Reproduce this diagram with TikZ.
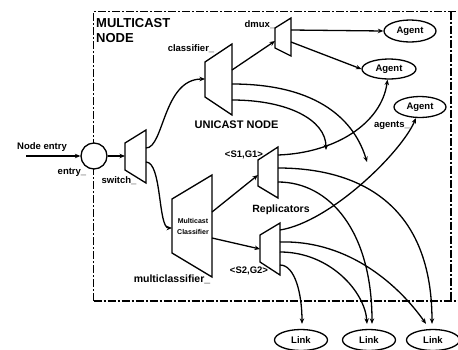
\documentclass[tikz,border=0pt]{standalone}
\usepackage{fontspec}
\setmainfont{Liberation Sans}
\usetikzlibrary{shapes.geometric,arrows.meta,calc}
\begin{document}
\begin{tikzpicture}[x=1pt,y=-1pt,
  wire/.style={line width=1.3pt, -{Stealth[length=5.5pt,width=4.5pt]}},
  lbl/.style={font=\fontsize{9.5}{11}\selectfont\bfseries, anchor=base, inner sep=0pt},
  biglbl/.style={font=\fontsize{10.5}{12}\selectfont\bfseries, anchor=base, inner sep=0pt},
  ellbox/.style={ellipse, draw, line width=1.3pt, fill=white, minimum width=52pt, minimum height=21pt, inner sep=0pt, font=\fontsize{9.5}{11}\selectfont\bfseries},
  mux/.style={line width=1.3pt, fill=white, line join=miter},
  frame/.style={line width=1.4pt, dash pattern=on 8pt off 2pt on 2pt off 2pt},
]
\useasboundingbox (0,0) rectangle (458,349);

% frame
\draw[frame] (93.5,301) -- (93.5,11.5) -- (458,11.5);
\draw[frame] (451,11.5) -- (451,301);
\draw[frame] (93.5,301) -- (458,301);
\node[font=\fontsize{13}{15}\selectfont\bfseries, anchor=base west, inner sep=0pt] (mc1) at (96,27) {MULTICAST};
\node[font=\fontsize{13}{15}\selectfont\bfseries, anchor=base west, inner sep=0pt] (mc2) at (96,42) {NODE};

% entry
\node[circle, draw, line width=1.3pt, fill=white, minimum size=26pt, inner sep=0pt] (entry) at (94,156) {};
\coordinate (src) at (26,156);
\node[lbl] (ne) at (42,149) {Node entry};
\node[lbl] (el) at (72,174) {entry\_};

% switch
\draw[mux] (125,143) -- (146,130) -- (146,183) -- (125,170) -- cycle;
\coordinate (swin) at (125,156);
\coordinate (swo1) at (146,148);
\coordinate (swo2) at (146,162);
\node[lbl] (swl) at (119,183) {switch\_};

% unicast classifier
\draw[mux] (205,62) -- (232,44) -- (232,115) -- (205,97) -- cycle;
\coordinate (clin) at (205,79);
\coordinate (clo1) at (232,70);
\coordinate (clo2) at (232,84);
\coordinate (clo3) at (232,100);
\node[lbl] (cll) at (191,51) {classifier\_};
\node[font=\fontsize{11}{13}\selectfont\bfseries, anchor=base, inner sep=0pt] (un) at (236.5,128) {UNICAST NODE};

% dmux
\draw[mux] (275,28) -- (291,18) -- (291,56) -- (275,48) -- cycle;
\coordinate (dmin) at (275,41);
\coordinate (dmo1) at (291,30);
\coordinate (dmo2) at (291,42);
\node[lbl] (dml) at (260,27) {dmux\_};

% agents
\node[ellbox, minimum width=52pt, minimum height=22pt] (a1) at (410,31) {Agent};
\node[ellbox, minimum width=54pt, minimum height=20pt] (a2) at (389,69) {Agent};
\node[ellbox, minimum width=52pt, minimum height=21pt] (a3) at (420,107) {Agent};
\node[lbl] (agl) at (392,127) {agents\_};

% multicast classifier
\draw[mux] (172,199) -- (212,175) -- (212,277) -- (172,253) -- cycle;
\coordinate (mcin) at (172,228);
\coordinate (mco1) at (212,212);
\coordinate (mco2) at (212,238);
\node[font=\fontsize{7}{8}\selectfont\bfseries, anchor=base, inner sep=0pt] (mt1) at (193,223) {Multicast};
\node[font=\fontsize{7}{8}\selectfont\bfseries, anchor=base, inner sep=0pt] (mt2) at (193,234) {Classifier};
\node[biglbl] (mcl) at (172,282) {multiclassifier\_};

% replicators
\draw[mux] (258,160) -- (278,147) -- (278,198) -- (258,186) -- cycle;
\coordinate (r1in) at (258,175);
\coordinate (r1o1) at (278,155);
\coordinate (r1o2) at (278,168);
\coordinate (r1o3) at (278,182);
\draw[mux] (260,235) -- (280,223) -- (280,275) -- (260,262) -- cycle;
\coordinate (r2in) at (260,249);
\coordinate (r2o1) at (280,230);
\coordinate (r2o2) at (280,242);
\coordinate (r2o3) at (280,252);
\coordinate (r2o4) at (280,265);
\node[lbl] (s1l) at (244,157) {<S1,G1>};
\node[lbl] (s2l) at (249,273) {<S2,G2>};
\node[biglbl] (repl) at (281,212) {Replicators};

% links
\node[ellbox, minimum width=53pt] (l1) at (301,340) {Link};
\node[ellbox, minimum width=53pt] (l2) at (369,340) {Link};
\node[ellbox, minimum width=53pt] (l3) at (433,340) {Link};
\coordinate (l1a) at ($(l1.north)+(1,-5)$);
\coordinate (l2a) at ($(l2.north)+(-2,-5)$);
\coordinate (l2b) at ($(l2.north)+(3,-5)$);
\coordinate (l3a) at ($(l3.north)+(-7,-5)$);
\coordinate (l3b) at ($(l3.north)+(-1,-5)$);

% free ends of unicast classifier
\coordinate (u1) at (367,162);
\coordinate (u2) at (326,150);

% connectors
\draw[wire] (src) -- (entry.west);
\draw[wire] (entry.east) -- (swin);
\draw[wire] (swo1) .. controls +(18,0) and +(-42,0) .. (clin);
\draw[wire] (swo2) .. controls +(16,0) and +(-14,0) .. (mcin);
\draw[wire] (clo1) -- (dmin);
\draw[wire] (dmo1) -- (a1.west);
\draw[wire] (dmo2) -- (a2.west);
\draw[wire] (clo2) .. controls +(88,0) and +(-12,-40) .. (u1);
\draw[wire] (clo3) .. controls +(56,0) and +(0,-30) .. (u2);
\draw[wire] (mco1) -- (r1in);
\draw[wire] (mco2) -- (r2in);
\draw[wire] (r1o1) .. controls +(57,-2) and +(-6,44) .. (a2.262);
\draw[wire] (r2o1) .. controls +(50,-8) and +(-15,35) .. (a3.250);
\draw[wire] (r1o2) .. controls +(72,0) and +(0,-127) .. (l3b);
\draw[wire] (r1o3) .. controls +(52,0) and +(0,-92) .. (l2b);
\draw[wire] (r2o2) .. controls +(70,-2) and +(-26,-37) .. (l3a);
\draw[wire] (r2o3) .. controls +(50,0) and +(-2,-32) .. (l2a);
\draw[wire] (r2o4) .. controls +(15,0) and +(0,-30) .. (l1a);
\end{tikzpicture}
\end{document}
